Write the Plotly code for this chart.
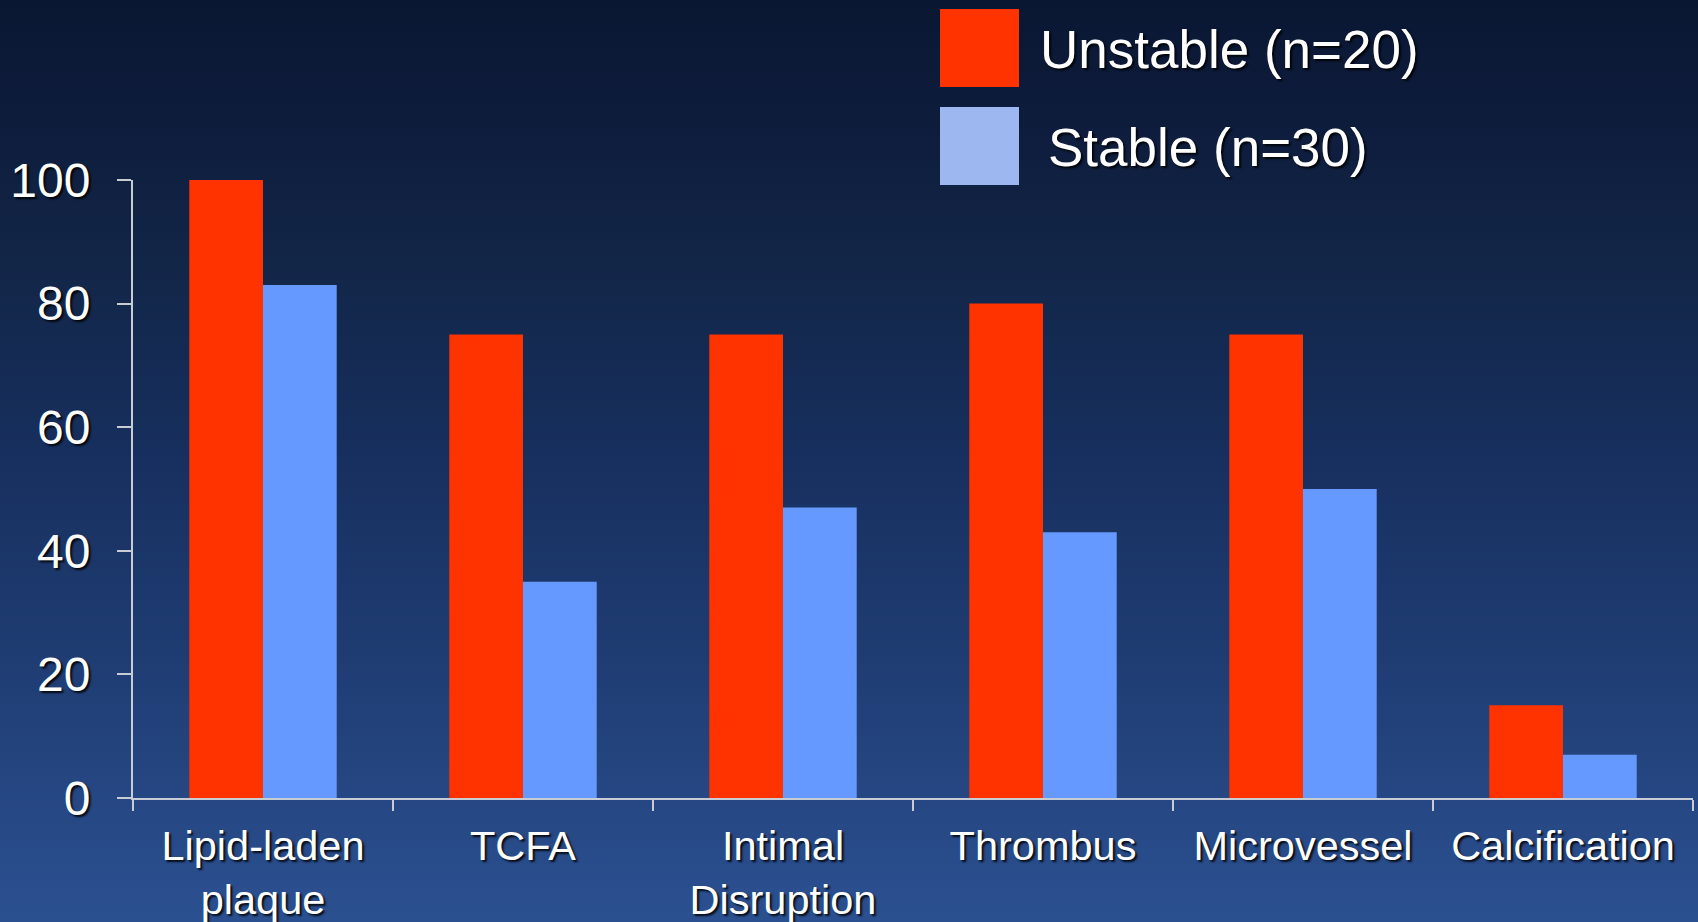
import plotly.graph_objects as go

categories = ["Lipid-laden<br>plaque", "TCFA", "Intimal<br>Disruption", "Thrombus", "Microvessel", "Calcification"]
unstable = [100, 75, 75, 80, 75, 15]
stable = [83, 35, 47, 43, 50, 7]
series_names = ["Unstable (n=20)", "Stable (n=30)"]
y_ticks = [0, 20, 40, 60, 80, 100]

W, H = 1698, 922
ML, MR, MT, MB = 133, 5, 180, 124
plot_h = H - MT - MB
plot_w = W - ML - MR

FONT = "Arial, 'Liberation Sans', sans-serif"
SHADOW = "2px 2px 2px rgba(0,0,0,0.85)"
RED = "#ff3300"
BLUE = "#6699ff"
AXIS = "#c8ccd4"

fig = go.Figure()
fig.add_trace(go.Bar(x=categories, y=unstable, name=series_names[0],
                     marker=dict(color=RED, line=dict(width=0))))
fig.add_trace(go.Bar(x=categories, y=stable, name=series_names[1],
                     marker=dict(color=BLUE, line=dict(width=0))))

# background vertical gradient (decoration)
stops = [(0, (10, 23, 51)), (120, (14, 28, 60)), (250, (18, 37, 70)),
         (450, (23, 47, 94)), (650, (31, 60, 114)), (922, (43, 80, 145))]

def col_at(py):
    for (a, ca), (b, cb) in zip(stops[:-1], stops[1:]):
        if a <= py <= b:
            t = (py - a) / (b - a)
            return "rgb(%d,%d,%d)" % tuple(round(ca[i] + (cb[i] - ca[i]) * t) for i in range(3))
    return "rgb(%d,%d,%d)" % stops[-1][1]

def py2paper(py):
    return (H - MB - py) / plot_h

def px2paper(px):
    return (px - ML) / plot_w

shapes = []
step = 8
for py in range(0, H + step, step):
    shapes.append(dict(type="rect", xref="paper", yref="paper", layer="below",
                       x0=px2paper(-5), x1=px2paper(W + 5),
                       y0=py2paper(py + step + 1), y1=py2paper(py),
                       fillcolor=col_at(min(py + step / 2, H)), line=dict(width=0)))

# legend-like squares (decoration)
shapes.append(dict(type="rect", xref="paper", yref="paper",
                   x0=px2paper(940), x1=px2paper(1019), y0=py2paper(87), y1=py2paper(9),
                   fillcolor=RED, line=dict(width=0)))
shapes.append(dict(type="rect", xref="paper", yref="paper",
                   x0=px2paper(940), x1=px2paper(1019), y0=py2paper(185), y1=py2paper(107),
                   fillcolor="#9db8f0", line=dict(width=0)))

annotations = [
    dict(text=series_names[0], xref="paper", yref="paper", x=px2paper(1038), y=py2paper(49),
         xanchor="left", yanchor="middle", showarrow=False,
         font=dict(family=FONT, size=53, color="white", shadow=SHADOW)),
    dict(text=series_names[1], xref="paper", yref="paper", x=px2paper(1046), y=py2paper(148),
         xanchor="left", yanchor="middle", showarrow=False,
         font=dict(family=FONT, size=53, color="white", shadow=SHADOW)),
]

fig.update_layout(
    width=W, height=H,
    margin=dict(l=ML, r=MR, t=MT, b=MB, pad=0, autoexpand=False),
    paper_bgcolor="rgb(10,23,51)",
    plot_bgcolor="rgba(0,0,0,0)",
    barmode="group", bargap=0.433, bargroupgap=0,
    showlegend=False,
    shapes=shapes,
    annotations=annotations,
    font=dict(family=FONT, color="white"),
)
fig.update_xaxes(
    automargin=False,
    showline=True, linecolor=AXIS, linewidth=2,
    ticks="outside", tickson="boundaries", ticklen=11, tickwidth=2, tickcolor=AXIS,
    showgrid=False, ticklabelstandoff=10,
    tickfont=dict(family=FONT, size=41.5, color="white", shadow=SHADOW),
)
fig.update_yaxes(
    automargin=False,
    range=[0, 100], tickvals=y_ticks, showline=True, linecolor=AXIS, linewidth=2,
    ticks="outside", ticklen=14, tickwidth=2, tickcolor=AXIS,
    showgrid=False, zeroline=False, ticklabelstandoff=17,
    tickfont=dict(family=FONT, size=48, color="white", shadow=SHADOW),
)

fig.write_html("out.html",
               config={"displayModeBar": False, "staticPlot": True},
               post_script="document.body.style.margin='0';document.body.style.padding='0';"
                           "document.body.style.background='rgb(10,23,51)';"
                           "document.body.style.overflow='hidden';")
